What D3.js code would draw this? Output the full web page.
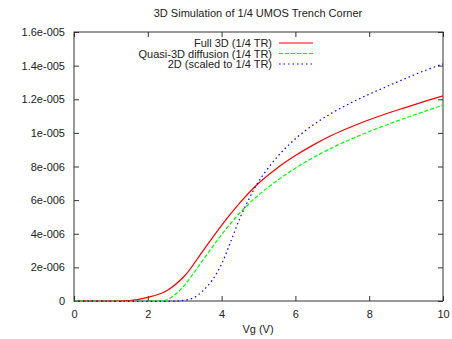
<!DOCTYPE html>
<html><head><meta charset="utf-8">
<script src="https://cdn.jsdelivr.net/npm/d3@7"></script>
<style>body{margin:0;background:#fff}svg{display:block}text{font-family:"Liberation Sans",Arial,sans-serif}</style>
</head><body><svg id="c" width="452" height="339"></svg>
<script>
const title = "3D Simulation of 1/4 UMOS Trench Corner";
const xLabel = "Vg (V)";
const xTicks = [0, 2, 4, 6, 8, 10];
const yTicks = [0, 2e-6, 4e-6, 6e-6, 8e-6, 1e-5, 1.2e-5, 1.4e-5, 1.6e-5];
const yTickLabels = ["0", "2e-006", "4e-006", "6e-006", "8e-006", "1e-005", "1.2e-005", "1.4e-005", "1.6e-005"];
const seriesNames = ["Full 3D (1/4 TR)", "Quasi-3D diffusion (1/4 TR)", "2D (scaled to 1/4 TR)"];
const fullVg = [0, 1, 1.5, 2, 2.5, 3, 3.5, 4, 4.5, 5, 5.5, 6, 6.5, 7, 7.5, 8, 8.5, 9, 9.5, 10];
const fullI = [0, 0, 0.02e-6, 0.22e-6, 0.6e-6, 1.5e-6, 3.0e-6, 4.5e-6, 5.85e-6, 7.0e-6, 7.9e-6, 8.65e-6, 9.3e-6, 9.87e-6, 10.35e-6, 10.78e-6, 11.17e-6, 11.52e-6, 11.87e-6, 12.2e-6];
const quasiVg = [0, 2.3, 2.5, 2.75, 3, 3.5, 4, 4.5, 5, 5.5, 6, 6.5, 7, 7.5, 8, 8.5, 9, 9.5, 10];
const quasiI = [0, 0, 0.05e-6, 0.4e-6, 0.95e-6, 2.45e-6, 3.95e-6, 5.25e-6, 6.3e-6, 7.15e-6, 7.9e-6, 8.55e-6, 9.12e-6, 9.62e-6, 10.08e-6, 10.5e-6, 10.9e-6, 11.28e-6, 11.65e-6];
const twoDVg = [0, 2.8, 3, 3.25, 3.5, 3.75, 4, 4.25, 4.5, 4.75, 5, 5.5, 6, 6.5, 7, 7.5, 8, 8.5, 9, 9.5, 10];
const twoDI = [0, 0, 0.05e-6, 0.2e-6, 0.62e-6, 1.25e-6, 2.2e-6, 3.55e-6, 4.95e-6, 6.1e-6, 7.1e-6, 8.55e-6, 9.65e-6, 10.5e-6, 11.2e-6, 11.78e-6, 12.3e-6, 12.78e-6, 13.25e-6, 13.7e-6, 14.1e-6];

const colors = ["#ff0000", "#00ff00", "#0000ff"];
const dashes = [null, "4,2", "1.5,3"];
const series = [
  fullVg.map((v, i) => [v, fullI[i]]),
  quasiVg.map((v, i) => [v, quasiI[i]]),
  twoDVg.map((v, i) => [v, twoDI[i]])
];

const L = 74, R = 443, T = 32, B = 301;
const x = d3.scaleLinear().domain([0, 10]).range([L, R]);
const y = d3.scaleLinear().domain([0, 1.6e-5]).range([B, T]);
const svg = d3.select("#c");

svg.append("text").attr("x", 258).attr("y", 17).attr("text-anchor", "middle")
  .attr("font-size", 11).attr("fill", "#222").text(title);

const ax = svg.append("g").attr("transform", `translate(0,${B})`)
  .call(d3.axisBottom(x).tickValues(xTicks).tickSize(-5).tickPadding(9).tickFormat(d3.format("d")));
const ay = svg.append("g").attr("transform", `translate(${L},0)`)
  .call(d3.axisLeft(y).tickValues(yTicks).tickSize(-5).tickPadding(9).tickFormat((d, i) => yTickLabels[i]));
const axT = svg.append("g").attr("transform", `translate(0,${T})`)
  .call(d3.axisTop(x).tickValues(xTicks).tickSize(-5).tickFormat(""));
const ayR = svg.append("g").attr("transform", `translate(${R},0)`)
  .call(d3.axisRight(y).tickValues(yTicks).tickSize(-5).tickFormat(""));
[ax, ay, axT, ayR].forEach(g => {
  g.select(".domain").remove();
  g.selectAll("line").attr("stroke", "#333");
  g.selectAll("text").attr("font-size", 11).attr("fill", "#222").attr("font-family", '"Liberation Sans",Arial,sans-serif');
});
svg.append("rect").attr("x", L).attr("y", T).attr("width", R - L).attr("height", B - T)
  .attr("fill", "none").attr("stroke", "#333").attr("stroke-width", 1);

svg.append("text").attr("x", 258).attr("y", 333).attr("text-anchor", "middle")
  .attr("font-size", 11).attr("fill", "#222").text(xLabel);

const line = d3.line().x(d => x(d[0])).y(d => y(d[1])).curve(d3.curveCatmullRom.alpha(0.5));
series.forEach((s, i) => {
  svg.append("path").datum(s).attr("d", line).attr("fill", "none")
    .attr("stroke", colors[i]).attr("stroke-width", 1.2)
    .attr("stroke-dasharray", dashes[i]);
});

seriesNames.forEach((n, i) => {
  const yy = 43 + i * 10.5;
  svg.append("text").attr("x", 272).attr("y", yy + 4).attr("text-anchor", "end")
    .attr("font-size", 11).attr("fill", "#222").text(n);
  svg.append("line").attr("x1", 279).attr("x2", 313).attr("y1", yy).attr("y2", yy)
    .attr("stroke", colors[i]).attr("stroke-width", 1.2).attr("stroke-dasharray", dashes[i]);
});
</script></body></html>
